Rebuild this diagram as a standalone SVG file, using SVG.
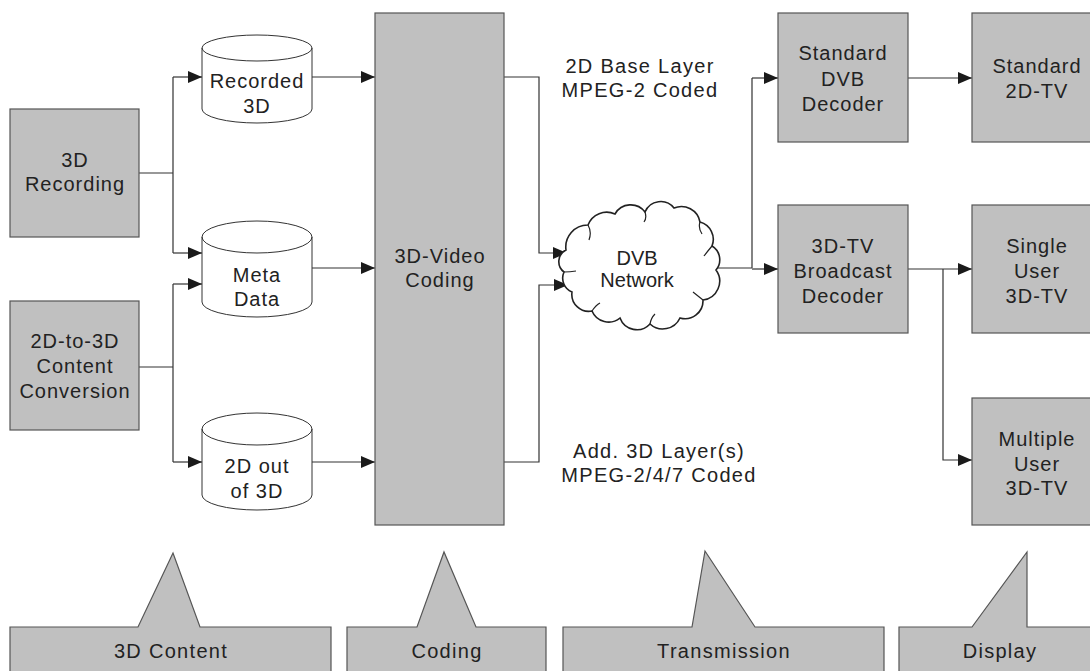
<svg xmlns="http://www.w3.org/2000/svg" width="1090" height="671" viewBox="0 0 1090 671">
<style>
.box{fill:#c0c0c0;stroke:#555;stroke-width:1.2}
.cyl{fill:#fff;stroke:#333;stroke-width:1}
.t{font-family:"Liberation Sans",Arial,sans-serif;font-size:20px;fill:#222;text-anchor:middle;letter-spacing:1px}
.tw{font-family:"Liberation Sans",Arial,sans-serif;font-size:20px;fill:#222;text-anchor:middle;letter-spacing:1.3px}
.c{fill:none;stroke:#333;stroke-width:1.2}
.a{marker-end:url(#arr)}
.cl{fill:#fff;stroke:#222;stroke-width:1.6}
.tick{fill:none;stroke:#222;stroke-width:1.2}
</style>
<defs>
<marker id="arr" markerWidth="14" markerHeight="12" refX="14" refY="6" orient="auto" markerUnits="userSpaceOnUse">
<path d="M0,0 L14,6 L0,12 z" fill="#1a1a1a"/>
</marker>
</defs>
<rect width="1090" height="671" fill="#fff"/>

<g id="connectors">
<path class="c" d="M139,173 H173 M173,77 V253"/>
<path class="c a" d="M173,77 H202"/>
<path class="c a" d="M173,253 H202"/>
<path class="c" d="M139,367 H173 M173,284 V462"/>
<path class="c a" d="M173,284 H202"/>
<path class="c a" d="M173,462 H202"/>
<path class="c a" d="M312,77 H375"/>
<path class="c a" d="M312,268 H375"/>
<path class="c a" d="M312,462 H375"/>
<path class="c a" d="M504,77 H539 V253 H567"/>
<path class="c a" d="M504,462 H539 V285 H568"/>
<path class="c" d="M717,268 H752 M752,78 V268"/>
<path class="c a" d="M752,78 H778"/>
<path class="c a" d="M752,269 H778"/>
<path class="c a" d="M908,78 H972"/>
<path class="c a" d="M908,269 H972"/>
<path class="c a" d="M943,269 V460 H972"/>
</g>

<g id="rec3d">
<rect class="box" x="10" y="109" width="129" height="128"/>
<text class="t" x="75" y="167">3D</text>
<text class="t" x="75" y="191">Recording</text>
</g>
<g id="conv2d3d">
<rect class="box" x="10" y="301" width="129" height="129"/>
<text class="t" x="75" y="348">2D-to-3D</text>
<text class="t" x="75" y="373">Content</text>
<text class="t" x="75" y="398">Conversion</text>
</g>

<g id="recorded3d">
<path class="cyl" d="M202,48 V109 A55,14 0 0 0 312,109 V48 A55,13 0 0 0 202,48 Z M202,48 A55,13 0 0 0 312,48"/>
<text class="t" x="257" y="88">Recorded</text>
<text class="t" x="257" y="113">3D</text>
</g>
<g id="metadata">
<path class="cyl" d="M202,237 V302 A55,15 0 0 0 312,302 V237 A55,16 0 0 0 202,237 Z M202,237 A55,16 0 0 0 312,237"/>
<text class="t" x="257" y="282">Meta</text>
<text class="t" x="257" y="306">Data</text>
</g>
<g id="twodout">
<path class="cyl" d="M202,429 V495 A55,15 0 0 0 312,495 V429 A55,16 0 0 0 202,429 Z M202,429 A55,16 0 0 0 312,429"/>
<text class="t" x="257" y="473">2D out</text>
<text class="t" x="257" y="498">of 3D</text>
</g>

<g id="coding3d">
<rect class="box" x="375" y="13" width="129" height="512"/>
<text class="t" x="440" y="263">3D-Video</text>
<text class="t" x="440" y="287">Coding</text>
</g>

<g id="label-base">
<text class="tw" x="640" y="73">2D Base Layer</text>
<text class="tw" x="640" y="97">MPEG-2 Coded</text>
</g>
<g id="label-add">
<text class="tw" x="659" y="458">Add. 3D Layer(s)</text>
<text class="tw" x="659" y="482">MPEG-2/4/7 Coded</text>
</g>

<g id="dvbnet">
<path class="cl" d="M566,250 A22,22 0 0 1 588,225 A20,20 0 0 1 615,214 A18,18 0 0 1 645,212 A17,17 0 0 1 674,208 A19,19 0 0 1 700,222 A18,18 0 0 1 712,246 A16,16 0 0 1 716,270 A19,19 0 0 1 703,300 A18,18 0 0 1 680,318 A19,19 0 0 1 650,324 A18,18 0 0 1 620,318 A18,18 0 0 1 592,311 A17,17 0 0 1 572,292 A15,15 0 0 1 564,272 A13,13 0 0 1 566,250 Z"/>
<path class="tick" d="M588,225 Q592,232 589,240 M645,212 Q647,218 644,222 M700,222 Q698,228 702,234 M712,246 Q707,252 704,256 M703,300 Q698,296 693,292 M650,324 Q651,318 655,314 M592,311 Q596,305 600,303 M564,272 Q570,272 576,271"/>
<text class="t" x="637" y="265" style="letter-spacing:0">DVB</text>
<text class="t" x="637" y="287" style="letter-spacing:0">Network</text>
</g>

<g id="stddvb">
<rect class="box" x="778" y="13" width="130" height="129"/>
<text class="t" x="843" y="60">Standard</text>
<text class="t" x="843" y="86">DVB</text>
<text class="t" x="843" y="111">Decoder</text>
</g>
<g id="bcast3d">
<rect class="box" x="778" y="205" width="130" height="128"/>
<text class="t" x="843" y="253">3D-TV</text>
<text class="t" x="843" y="278">Broadcast</text>
<text class="t" x="843" y="303">Decoder</text>
</g>
<g id="std2dtv">
<rect class="box" x="972" y="13" width="129" height="129"/>
<text class="t" x="1037" y="73">Standard</text>
<text class="t" x="1037" y="98">2D-TV</text>
</g>
<g id="single3dtv">
<rect class="box" x="972" y="205" width="129" height="128"/>
<text class="t" x="1037" y="253">Single</text>
<text class="t" x="1037" y="278">User</text>
<text class="t" x="1037" y="303">3D-TV</text>
</g>
<g id="multi3dtv">
<rect class="box" x="972" y="398" width="129" height="127"/>
<text class="t" x="1037" y="446">Multiple</text>
<text class="t" x="1037" y="471">User</text>
<text class="t" x="1037" y="495">3D-TV</text>
</g>

<g id="stage-content">
<path class="box" d="M10,690 V627 H138 L173,553 L200,627 H331 V690 Z"/>
<text class="tw" x="171" y="658">3D Content</text>
</g>
<g id="stage-coding">
<path class="box" d="M347,690 V627 H417 L444,552 L476,627 H546 V690 Z"/>
<text class="tw" x="447" y="658">Coding</text>
</g>
<g id="stage-transmission">
<path class="box" d="M563,690 V627 H692 L705,551 L755,627 H884 V690 Z"/>
<text class="tw" x="724" y="658">Transmission</text>
</g>
<g id="stage-display">
<path class="box" d="M899,690 V627 H972 L1027,552 V627 H1100 V690 Z"/>
<text class="tw" x="1000" y="658">Display</text>
</g>
</svg>
